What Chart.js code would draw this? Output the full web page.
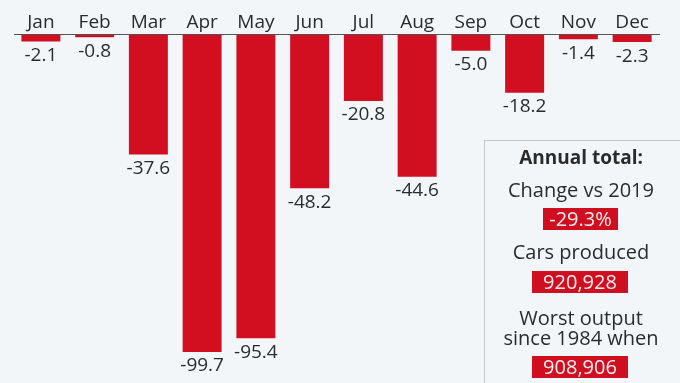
<!DOCTYPE html>
<html><head><meta charset="utf-8">
<script src="https://cdn.jsdelivr.net/npm/chart.js@4/dist/chart.umd.min.js"></script>
<style>
html,body{margin:0;padding:0;background:#f3f6f9;}
#wrap{position:relative;width:680px;height:383px;overflow:hidden;font-family:"Open Sans",sans-serif;color:#2b2b2b;}
canvas{position:absolute;left:0;top:0;}
#box{position:absolute;left:484px;top:140px;width:240px;height:280px;border:1.5px solid #c4c6c9;box-sizing:border-box;}
.t{position:absolute;left:485px;width:192px;text-align:center;font-size:20px;line-height:22px;}
.b{position:absolute;background:#cf0e1f;color:#fbeef0;font-size:20px;line-height:22px;text-align:center;}
</style></head>
<body><div id="wrap">
<canvas id="c" width="680" height="383"></canvas>
<div id="box"></div>
<div class="t" style="top:146px;font-weight:700;font-size:19px;">Annual total:</div>
<div class="t" style="top:179px;">Change vs 2019</div>
<div class="b" style="left:543px;top:208px;width:75px;height:22px;">-29.3%</div>
<div class="t" style="top:241px;">Cars produced</div>
<div class="b" style="left:532px;top:271px;width:96px;height:22px;">920,928</div>
<div class="t" style="top:307px;">Worst output</div>
<div class="t" style="top:327px;">since 1984 when</div>
<div class="b" style="left:532px;top:356px;width:96px;height:22px;">908,906</div>
</div>
<script>
const months = ["Jan","Feb","Mar","Apr","May","Jun","Jul","Aug","Sep","Oct","Nov","Dec"];
const changePct = [-2.1,-0.8,-37.6,-99.7,-95.4,-48.2,-20.8,-44.6,-5.0,-18.2,-1.4,-2.3];

const labelPlugin = {
  id: 'valueLabels',
  afterDatasetsDraw(chart) {
    const ctx = chart.ctx;
    const meta = chart.getDatasetMeta(0);
    ctx.save();
    ctx.font = '19px "Open Sans"';
    ctx.fillStyle = '#2b2b2b';
    ctx.textAlign = 'center';
    ctx.textBaseline = 'middle';
    meta.data.forEach((bar, i) => {
      ctx.fillText(changePct[i].toFixed(1), bar.x, bar.y + 14);
    });
    ctx.restore();
  }
};

new Chart(document.getElementById('c'), {
  type: 'bar',
  data: {
    labels: months,
    datasets: [{
      data: changePct,
      backgroundColor: '#d10f21',
      borderWidth: 0,
      barPercentage: 0.725,
      categoryPercentage: 1
    }]
  },
  options: {
    responsive: false,
    animation: false,
    events: [],
    layout: { padding: { left: 14, right: 21, top: 10, bottom: 30 } },
    plugins: { legend: { display: false }, tooltip: { enabled: false } },
    scales: {
      x: {
        position: 'top',
        grid: { display: false, drawTicks: false, tickLength: 0 },
        border: { display: true, color: '#555', width: 1 },
        ticks: { color: '#2b2b2b', font: { family: '"Open Sans"', size: 19 }, padding: 1 }
      },
      y: { display: false, min: -100, max: 0 }
    }
  },
  plugins: [labelPlugin]
});
</script>
</body></html>
